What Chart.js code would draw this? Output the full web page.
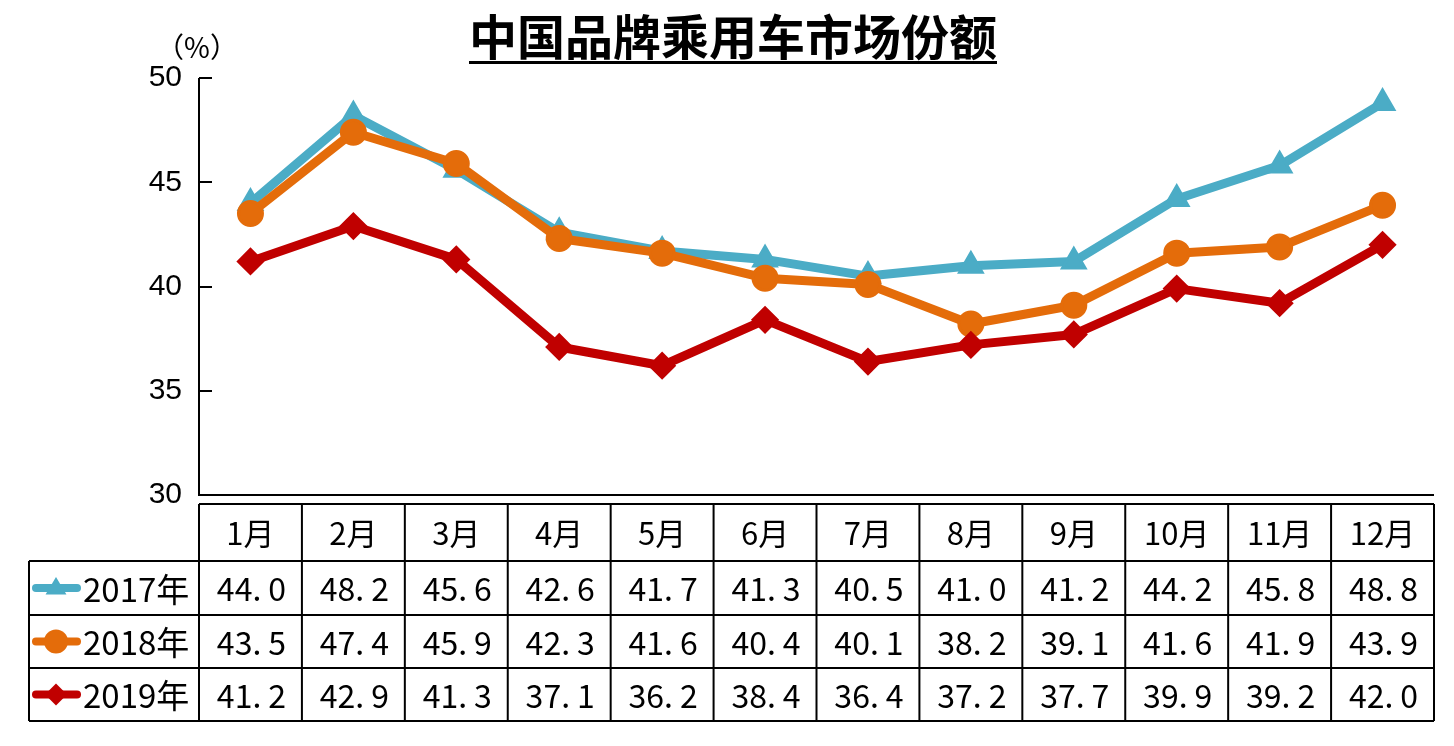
<!DOCTYPE html>
<html>
<head>
<meta charset="utf-8">
<script src="https://cdn.jsdelivr.net/npm/chart.js@4/dist/chart.umd.min.js"></script>
<style>
  body { margin: 0; background: #fff; }
  canvas { display: block; }
</style>
</head>
<body>
<canvas id="c" width="1454" height="746"></canvas>
<script>
const months = ['1月', '2月', '3月', '4月', '5月', '6月', '7月', '8月', '9月', '10月', '11月', '12月'];
const years = ['2017年', '2018年', '2019年'];
const share2017 = [44.0, 48.2, 45.6, 42.6, 41.7, 41.3, 40.5, 41.0, 41.2, 44.2, 45.8, 48.8];
const share2018 = [43.5, 47.4, 45.9, 42.3, 41.6, 40.4, 40.1, 38.2, 39.1, 41.6, 41.9, 43.9];
const share2019 = [41.2, 42.9, 41.3, 37.1, 36.2, 38.4, 36.4, 37.2, 37.7, 39.9, 39.2, 42.0];
const yTicks = [30, 35, 40, 45, 50];

const colors = ['#4BACC6', '#E46C0A', '#C00000'];
const styles = ['triangle', 'circle', 'rectRot'];
const radii = [13, 12, 12];
const series = [share2017, share2018, share2019];

const cjk = '"Noto Sans CJK SC", "Noto Sans", sans-serif';

// small marker for the table legend column
function marker(ctx, style, x, y, r, color) {
  ctx.fillStyle = color;
  ctx.beginPath();
  if (style === 'circle') {
    ctx.arc(x, y, r, 0, Math.PI * 2);
  } else if (style === 'triangle') {
    ctx.moveTo(x, y - r);
    ctx.lineTo(x + r * 0.95, y + r * 0.6);
    ctx.lineTo(x - r * 0.95, y + r * 0.6);
    ctx.closePath();
  } else {
    ctx.moveTo(x, y - r);
    ctx.lineTo(x + r, y);
    ctx.lineTo(x, y + r);
    ctx.lineTo(x - r, y);
    ctx.closePath();
  }
  ctx.fill();
}

// "44.0" drawn with the wide gap after the point, like the source font
function numText(ctx, v, cx, cy) {
  const s = v.toFixed(1);
  const head = s.slice(0, -1), tail = s.slice(-1);
  const gap = 7;
  const w1 = ctx.measureText(head).width, w2 = ctx.measureText(tail).width;
  const x0 = cx - (w1 + gap + w2) / 2;
  ctx.textAlign = 'left';
  ctx.fillText(head, x0, cy);
  ctx.fillText(tail, x0 + w1 + gap, cy);
}

const tablePlugin = {
  id: 'tablePlugin',
  afterDraw(chart) {
    const ctx = chart.ctx;
    const area = chart.chartArea;
    const x = chart.scales.x;
    const y = chart.scales.y;
    const colW = x.getPixelForValue(1) - x.getPixelForValue(0);
    const left = area.left, right = area.right;
    const rows = [504, 561, 615, 668, 721];
    const legendLeft = 29;

    ctx.save();
    ctx.strokeStyle = '#000';
    ctx.lineWidth = 2;

    // axes: left line with inward ticks, bottom line
    ctx.beginPath();
    ctx.moveTo(left, area.top);
    ctx.lineTo(left, area.bottom);
    ctx.lineTo(right, area.bottom);
    yTicks.forEach(v => {
      const py = Math.round(y.getPixelForValue(v));
      ctx.moveTo(left, py);
      ctx.lineTo(left + 13, py);
    });
    ctx.stroke();

    // table grid
    ctx.beginPath();
    ctx.moveTo(left, rows[0]);
    ctx.lineTo(right, rows[0]);
    for (let i = 1; i < rows.length; i++) {
      ctx.moveTo(legendLeft, rows[i]);
      ctx.lineTo(right, rows[i]);
    }
    ctx.moveTo(legendLeft, rows[1]);
    ctx.lineTo(legendLeft, rows[4]);
    for (let i = 0; i <= months.length; i++) {
      const px = left + i * colW;
      ctx.moveTo(px, rows[0]);
      ctx.lineTo(px, rows[4]);
    }
    ctx.stroke();

    // header and values
    ctx.fillStyle = '#000';
    ctx.textAlign = 'center';
    ctx.textBaseline = 'middle';
    ctx.font = '31px ' + cjk;
    months.forEach((m, i) => {
      ctx.fillText(m, x.getPixelForValue(i), (rows[0] + rows[1]) / 2 + 1);
    });
    ctx.font = '32px ' + cjk;
    series.forEach((vals, s) => {
      const cy = (rows[s + 1] + rows[s + 2]) / 2 + 1;
      vals.forEach((v, i) => numText(ctx, v, x.getPixelForValue(i) + 1, cy));
    });

    // legend column
    years.forEach((label, s) => {
      const cy = (rows[s + 1] + rows[s + 2]) / 2;
      ctx.strokeStyle = colors[s];
      ctx.lineWidth = 8;
      ctx.lineCap = 'round';
      ctx.beginPath();
      ctx.moveTo(36, cy);
      ctx.lineTo(77, cy);
      ctx.stroke();
      marker(ctx, styles[s], 56, cy, s === 1 ? 12 : 11, colors[s]);
      ctx.fillStyle = '#000';
      ctx.textAlign = 'left';
      ctx.font = '33px ' + cjk;
      ctx.fillText(label, 83, cy + 1);
    });

    // title with underline
    ctx.textAlign = 'center';
    ctx.textBaseline = 'alphabetic';
    ctx.font = 'bold 48px ' + cjk;
    const title = '中国品牌乘用车市场份额';
    ctx.fillText(title, 733, 55);
    const tw = ctx.measureText(title).width;
    ctx.fillRect(733 - tw / 2, 61, tw, 3);

    // unit label
    ctx.font = '28px ' + cjk;
    ctx.textBaseline = 'middle';
    ctx.fillText('（%）', 197, 47);
    ctx.restore();
  }
};

new Chart(document.getElementById('c'), {
  type: 'line',
  data: {
    labels: months,
    datasets: years.map((label, s) => ({
      label: label,
      data: series[s],
      borderColor: colors[s],
      backgroundColor: colors[s],
      borderWidth: 9,
      pointStyle: styles[s],
      pointRadius: radii[s],
      pointHoverRadius: radii[s],
      pointBorderColor: colors[s],
      pointBorderWidth: 3,
      borderJoinStyle: 'round',
      tension: 0,
      order: 3 - s
    }))
  },
  options: {
    responsive: false,
    devicePixelRatio: 1,
    animation: false,
    events: [],
    layout: { padding: { left: 0, right: 20, top: 78, bottom: 251 } },
    plugins: { legend: { display: false }, tooltip: { enabled: false } },
    scales: {
      x: {
        display: false,
        offset: true
      },
      y: {
        min: 30,
        max: 50,
        afterFit(scale) { scale.width = 199; },
        afterBuildTicks(scale) { scale.ticks = yTicks.map(v => ({ value: v })); },
        grid: { display: false },
        border: { display: false },
        ticks: {
          padding: 9,
          color: '#000',
          font: { family: '"Liberation Sans", Arial, sans-serif', size: 30 }
        }
      }
    }
  },
  plugins: [tablePlugin]
});
</script>
</body>
</html>
